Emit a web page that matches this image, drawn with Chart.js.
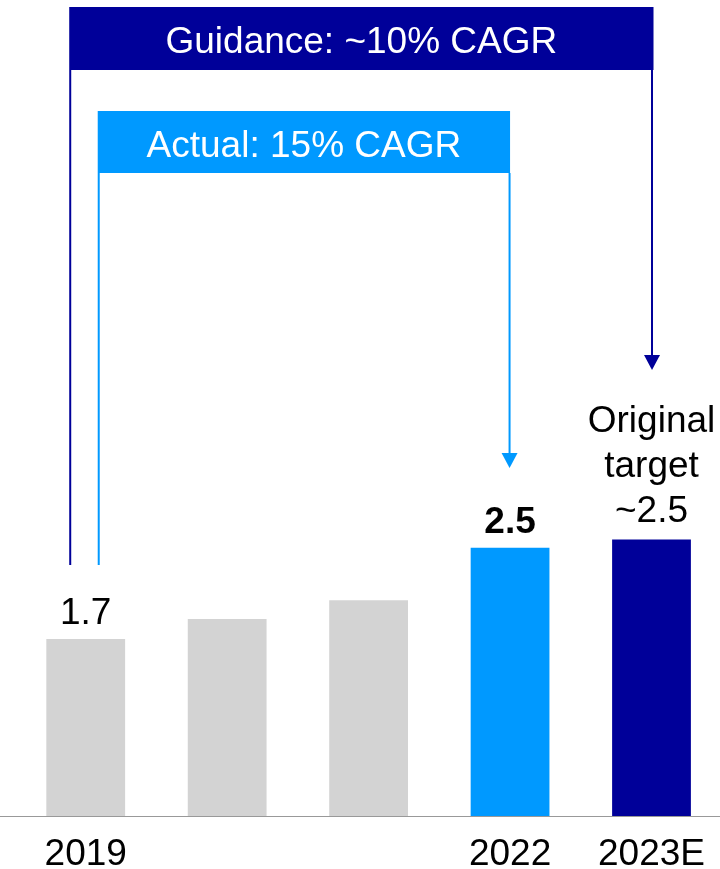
<!DOCTYPE html>
<html>
<head>
<meta charset="utf-8">
<script src="https://cdn.jsdelivr.net/npm/chart.js@4"></script>
<style>
  html, body { margin: 0; padding: 0; background: #ffffff; overflow: hidden; }
  #wrap { width: 724px; height: 892px; }
</style>
</head>
<body>
<div id="wrap"><canvas id="grafico"></canvas></div>
<script>
// dados
const anos = ['2019', '', '', '2022', '2023E'];
const valores = [1.7, 1.89, 2.07, 2.57, 2.65];
const rotulos = [['1.7'], [], [], ['2.5'], ['Original', 'target', '~2.5']];
const rotuloNegrito = [false, false, false, true, false];
const cores = ['#d3d3d3', '#d3d3d3', '#d3d3d3', '#0099ff', '#000099'];
const textoGuidance = 'Guidance: ~10% CAGR';
const textoActual = 'Actual: 15% CAGR';

const NAVY = '#000099';
const AZUL = '#0099ff';
const FONTE = '"Liberation Sans", Arial, sans-serif';

/**
 * Linha de base cinza em toda a largura.
 */
const linhaBase = {
    id: 'linhaBase',
    afterDatasetsDraw(chart) {
        const { ctx, scales: { y } } = chart;
        const yb = Math.round(y.getPixelForValue(0)) - 0.5;
        ctx.save();
        ctx.strokeStyle = '#999999';
        ctx.lineWidth = 1;
        ctx.beginPath();
        ctx.moveTo(0, yb);
        ctx.lineTo(chart.width, yb);
        ctx.stroke();
        ctx.restore();
    }
};

/**
 * Rótulos de valor acima das barras.
 */
const rotulosValor = {
    id: 'rotulosValor',
    afterDatasetsDraw(chart) {
        const { ctx } = chart;
        const meta = chart.getDatasetMeta(0);
        ctx.save();
        ctx.fillStyle = '#000000';
        ctx.textAlign = 'center';
        ctx.textBaseline = 'alphabetic';
        meta.data.forEach((bar, i) => {
            const linhas = rotulos[i];
            if (!linhas.length) return;
            ctx.font = (rotuloNegrito[i] ? 'bold ' : '') + '37px ' + FONTE;
            const n = linhas.length;
            const base = bar.y - (n > 1 ? 17 : 15);
            linhas.forEach((txt, k) => {
                ctx.fillText(txt, bar.x, base - (n - 1 - k) * 45);
            });
        });
        ctx.restore();
    }
};

/**
 * Colchetes de CAGR (guidance e actual) com setas.
 */
function seta(ctx, x, yTopo, yPonta, cor) {
    ctx.strokeStyle = cor;
    ctx.fillStyle = cor;
    ctx.lineWidth = 2;
    ctx.beginPath();
    ctx.moveTo(x, yTopo);
    ctx.lineTo(x, yPonta - 14);
    ctx.stroke();
    ctx.beginPath();
    ctx.moveTo(x - 8, yPonta - 15);
    ctx.lineTo(x + 8, yPonta - 15);
    ctx.lineTo(x, yPonta);
    ctx.closePath();
    ctx.fill();
}

const colchetes = {
    id: 'colchetes',
    afterDraw(chart) {
        const { ctx, scales: { x } } = chart;
        const x0 = x.getPixelForValue(0);
        const x3 = x.getPixelForValue(3);
        const x4 = x.getPixelForValue(4);
        ctx.save();

        // guidance
        const gEsq = x0 - 16.5, gDir = x4 + 2;
        ctx.fillStyle = NAVY;
        ctx.fillRect(gEsq, 7, gDir - gEsq, 63);
        ctx.strokeStyle = NAVY;
        ctx.lineWidth = 2;
        ctx.beginPath();
        ctx.moveTo(gEsq + 1, 70);
        ctx.lineTo(gEsq + 1, 565);
        ctx.stroke();
        seta(ctx, gDir - 1.5, 70, 370, NAVY);

        // actual
        const aEsq = x0 + 12, aDir = x3 + 0;
        ctx.fillStyle = AZUL;
        ctx.fillRect(aEsq, 111, aDir - aEsq, 62);
        ctx.strokeStyle = AZUL;
        ctx.lineWidth = 2;
        ctx.beginPath();
        ctx.moveTo(aEsq + 1, 173);
        ctx.lineTo(aEsq + 1, 565);
        ctx.stroke();
        seta(ctx, aDir - 0.5, 173, 468, AZUL);

        ctx.fillStyle = '#ffffff';
        ctx.font = '37px ' + FONTE;
        ctx.textAlign = 'center';
        ctx.textBaseline = 'alphabetic';
        ctx.fillText(textoGuidance, (gEsq + gDir) / 2, 53);
        ctx.fillText(textoActual, (aEsq + aDir) / 2, 157);
        ctx.restore();
    }
};

const canvas = document.getElementById('grafico');
new Chart(canvas, {
    type: 'bar',
    data: {
        labels: anos,
        datasets: [{
            data: valores,
            backgroundColor: cores,
            borderWidth: 0,
            barPercentage: 0.557,
            categoryPercentage: 1
        }]
    },
    options: {
        responsive: true,
        maintainAspectRatio: false,
        animation: false,
        layout: { padding: { left: 15, right: 0, top: 0, bottom: 0 } },
        plugins: {
            legend: { display: false },
            tooltip: { enabled: false }
        },
        scales: {
            x: {
                grid: { display: false, drawTicks: false, tickLength: 0 },
                border: { display: false },
                ticks: {
                    color: '#000000',
                    padding: 19,
                    maxRotation: 0,
                    autoSkip: false,
                    font: { family: FONTE, size: 37, lineHeight: 1 }
                }
            },
            y: {
                display: false,
                min: 0,
                max: 7.8
            }
        }
    },
    plugins: [linhaBase, rotulosValor, colchetes]
});
</script>
</body>
</html>
